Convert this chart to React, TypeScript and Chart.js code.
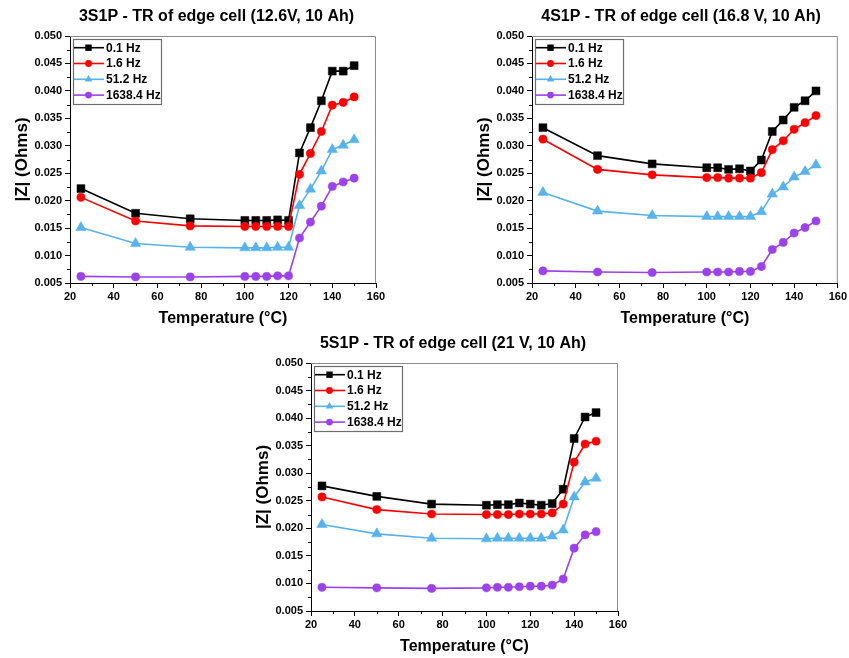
import React, { useEffect, useRef } from "react";
import { Chart, registerables } from "chart.js";
Chart.register(...registerables);

const FONT = "'Liberation Sans', Arial, Helvetica, sans-serif";

// ---------------- data ----------------
const temperatures = [25, 50, 75, 100, 105, 110, 115, 120, 125, 130, 135, 140, 145, 150];
const seriesLabels = ["0.1 Hz", "1.6 Hz", "51.2 Hz", "1638.4 Hz"];
const yTickValues = [0.005, 0.01, 0.015, 0.02, 0.025, 0.03, 0.035, 0.04, 0.045, 0.05];
const xTickValues = [20, 40, 60, 80, 100, 120, 140, 160];

// 3S1P
const z3s_01Hz = [0.0222, 0.0177, 0.0167, 0.0164, 0.0164, 0.0164, 0.0165, 0.0164, 0.0287, 0.0333, 0.0382, 0.0436, 0.0436, 0.0446];
const z3s_16Hz = [0.0206, 0.0163, 0.0154, 0.0153, 0.0153, 0.0153, 0.0153, 0.0153, 0.0248, 0.0286, 0.0326, 0.0374, 0.0379, 0.0389];
const z3s_512Hz = [0.0151, 0.0122, 0.0115, 0.0114, 0.0114, 0.0114, 0.0115, 0.0115, 0.0191, 0.0221, 0.0254, 0.0293, 0.0301, 0.0311];
const z3s_1638Hz = [0.0062, 0.0061, 0.0061, 0.0062, 0.0062, 0.0062, 0.0063, 0.0063, 0.0132, 0.0161, 0.019, 0.0226, 0.0234, 0.0241];

// 4S1P
const z4s_01Hz = [0.0333, 0.0282, 0.0267, 0.026, 0.026, 0.0257, 0.0258, 0.0254, 0.0274, 0.0326, 0.0347, 0.037, 0.0382, 0.04];
const z4s_16Hz = [0.0312, 0.0257, 0.0247, 0.0242, 0.0242, 0.0241, 0.0241, 0.0241, 0.0251, 0.0293, 0.0309, 0.033, 0.0342, 0.0355];
const z4s_512Hz = [0.0215, 0.0181, 0.0173, 0.0171, 0.0171, 0.0171, 0.0171, 0.0171, 0.018, 0.0212, 0.0225, 0.0243, 0.0253, 0.0265];
const z4s_1638Hz = [0.0072, 0.007, 0.0069, 0.007, 0.007, 0.007, 0.0071, 0.0071, 0.008, 0.0111, 0.0124, 0.0141, 0.0151, 0.0163];

// 5S1P
const z5s_01Hz = [0.0277, 0.0258, 0.0244, 0.0242, 0.0243, 0.0243, 0.0246, 0.0244, 0.0242, 0.0245, 0.0271, 0.0363, 0.0402, 0.041];
const z5s_16Hz = [0.0257, 0.0234, 0.0226, 0.0225, 0.0225, 0.0225, 0.0226, 0.0226, 0.0226, 0.0228, 0.0244, 0.032, 0.0353, 0.0358];
const z5s_512Hz = [0.0207, 0.019, 0.0182, 0.0181, 0.0182, 0.0182, 0.0182, 0.0182, 0.0182, 0.0186, 0.0197, 0.0257, 0.0284, 0.0291];
const z5s_1638Hz = [0.0093, 0.0092, 0.0091, 0.0092, 0.0093, 0.0093, 0.0094, 0.0095, 0.0095, 0.0097, 0.0108, 0.0164, 0.0188, 0.0194];

// ---------------- styles ----------------
const COLORS = ["#000000", "#ff0000", "#58b3ec", "#9b42ec"];
const STYLES = ["rect", "circle", "triangle", "circle"];
const RADII = [5.6, 4.1, 6, 4.1];

function drawMarker(ctx: CanvasRenderingContext2D, style: string, x: number, y: number, s: number, color: string) {
  ctx.fillStyle = color;
  ctx.beginPath();
  if (style === "rect") {
    ctx.rect(x - s, y - s, 2 * s, 2 * s);
  } else if (style === "triangle") {
    const r = s * 1.3;
    ctx.moveTo(x, y - r);
    ctx.lineTo(x + r * 0.866, y + r * 0.5);
    ctx.lineTo(x - r * 0.866, y + r * 0.5);
    ctx.closePath();
  } else {
    ctx.arc(x, y, s, 0, Math.PI * 2);
  }
  ctx.fill();
}

const decorPlugin = {
  id: "decor",
  afterDraw(chart: any, _args: any, opts: any) {
    const { ctx, chartArea: a, scales } = chart;
    ctx.save();
    // grey top / right frame
    ctx.strokeStyle = "#8c8c8c";
    ctx.lineWidth = 1;
    ctx.beginPath();
    ctx.moveTo(a.left, a.top + 0.5);
    ctx.lineTo(a.right - 0.5, a.top + 0.5);
    ctx.lineTo(a.right - 0.5, a.bottom);
    ctx.stroke();

    // minor ticks
    ctx.strokeStyle = "#000";
    ctx.beginPath();
    for (let i = 0; i < xTickValues.length - 1; i++) {
      const v = (xTickValues[i] + xTickValues[i + 1]) / 2;
      const px = Math.round(scales.x.getPixelForValue(v)) + 0.5;
      ctx.moveTo(px, a.bottom);
      ctx.lineTo(px, a.bottom + 3);
    }
    for (let i = 0; i < yTickValues.length - 1; i++) {
      const v = (yTickValues[i] + yTickValues[i + 1]) / 2;
      const py = Math.round(scales.y.getPixelForValue(v)) + 0.5;
      ctx.moveTo(a.left - 3, py);
      ctx.lineTo(a.left, py);
    }
    ctx.stroke();

    // legend
    const bx = a.left + 3;
    const by = a.top + 3;
    const bw = 88;
    const bh = 65;
    ctx.fillStyle = "#fff";
    ctx.fillRect(bx, by, bw, bh);
    ctx.strokeStyle = "#6e6e6e";
    ctx.lineWidth = 1.2;
    ctx.strokeRect(bx + 0.5, by + 0.5, bw, bh);
    ctx.font = `bold 12px ${FONT}`;
    ctx.textBaseline = "middle";
    ctx.textAlign = "left";
    chart.data.datasets.forEach((ds: any, i: number) => {
      const ry = by + 8.7 + i * 15.8;
      ctx.strokeStyle = ds.borderColor;
      ctx.lineWidth = 1.6;
      ctx.beginPath();
      ctx.moveTo(bx + 1, ry);
      ctx.lineTo(bx + 31, ry);
      ctx.stroke();
      drawMarker(ctx, ds.pointStyle, bx + 15.5, ry, ds.pointStyle === "rect" ? 3.2 : 3.4, ds.borderColor);
      ctx.fillStyle = "#000";
      ctx.fillText(ds.label, bx + 33, ry + 0.5);
    });

    // title
    ctx.font = `bold 16px ${FONT}`;
    ctx.textAlign = "center";
    ctx.textBaseline = "middle";
    ctx.fillStyle = "#000";
    ctx.fillText(opts.title, opts.titleX, opts.titleY);
    ctx.restore();
  },
};

type PanelProps = {
  left: number;
  top: number;
  width: number;
  height: number;
  pad: { left: number; right: number; top: number; bottom: number };
  title: string;
  titleX: number;
  titleY: number;
  series: number[][];
};

function Panel(p: PanelProps) {
  const ref = useRef<HTMLCanvasElement>(null);
  useEffect(() => {
    if (!ref.current) return;
    const datasets = p.series.map((vals, i) => ({
      label: seriesLabels[i],
      data: temperatures.map((t, j) => ({ x: t, y: vals[j] })),
      borderColor: COLORS[i],
      backgroundColor: COLORS[i],
      pointBackgroundColor: COLORS[i],
      pointBorderColor: COLORS[i],
      pointStyle: STYLES[i],
      pointRadius: RADII[i],
      pointBorderWidth: 0.5,
      borderWidth: 1.6,
      tension: 0,
      order: 3 - i,
    }));
    const tickFont = { family: FONT, size: 11, weight: "bold" as const };
    const titleFont = { family: FONT, size: 16, weight: "bold" as const };
    const chart = new Chart(ref.current, {
      type: "line",
      data: { datasets },
      plugins: [decorPlugin],
      options: {
        responsive: false,
        animation: false,
        devicePixelRatio: 1,
        layout: { padding: p.pad },
        plugins: {
          legend: { display: false },
          tooltip: { enabled: false },
          decor: { title: p.title, titleX: p.titleX, titleY: p.titleY },
        } as any,
        scales: {
          x: {
            type: "linear",
            min: xTickValues[0],
            max: xTickValues[xTickValues.length - 1],
            afterBuildTicks: (s: any) => {
              s.ticks = xTickValues.map((v) => ({ value: v }));
            },
            ticks: { font: tickFont, color: "#000", padding: 2, maxRotation: 0, autoSkip: false },
            grid: { drawOnChartArea: false, drawTicks: true, tickLength: 5, color: "#000" },
            border: { color: "#000", width: 1 },
            title: { display: true, text: "Temperature (°C)", font: titleFont, color: "#000", padding: { top: 0, bottom: 2 } },
            afterFit: (s: any) => {
              s.height = 47;
            },
          },
          y: {
            type: "linear",
            min: yTickValues[0],
            max: yTickValues[yTickValues.length - 1],
            afterBuildTicks: (s: any) => {
              s.ticks = yTickValues.map((v) => ({ value: v }));
            },
            ticks: { font: tickFont, color: "#000", padding: 3, callback: (v: any) => Number(v).toFixed(3) },
            grid: { drawOnChartArea: false, drawTicks: true, tickLength: 5, color: "#000" },
            border: { color: "#000", width: 1 },
            title: { display: true, text: "|Z| (Ohms)", font: { family: FONT, size: 17, weight: "bold" }, color: "#000", padding: { top: 4, bottom: 0 } },
            afterFit: (s: any) => {
              s.width = 62;
            },
          },
        },
      } as any,
    });
    return () => chart.destroy();
  }, []);
  return (
    <canvas
      ref={ref}
      width={p.width}
      height={p.height}
      style={{ position: "absolute", left: p.left, top: p.top, width: p.width, height: p.height }}
    />
  );
}

export default function App() {
  return (
    <div style={{ position: "absolute", left: 0, top: 0, width: 849, height: 658, background: "#fff", overflow: "hidden" }}>
      <Panel
        left={0}
        top={0}
        width={425}
        height={330}
        pad={{ left: 8, right: 49, top: 36, bottom: 0 }}
        title="3S1P - TR of edge cell (12.6V, 10 Ah)"
        titleX={216.5}
        titleY={16.5}
        series={[z3s_01Hz, z3s_16Hz, z3s_512Hz, z3s_1638Hz]}
      />
      <Panel
        left={425}
        top={0}
        width={424}
        height={330}
        pad={{ left: 45, right: 10, top: 36, bottom: 0 }}
        title="4S1P - TR of edge cell (16.8 V, 10 Ah)"
        titleX={256}
        titleY={16.5}
        series={[z4s_01Hz, z4s_16Hz, z4s_512Hz, z4s_1638Hz]}
      />
      <Panel
        left={220}
        top={330}
        width={420}
        height={328}
        pad={{ left: 29, right: 22, top: 33, bottom: 0 }}
        title="5S1P - TR of edge cell (21 V, 10 Ah)"
        titleX={233}
        titleY={14}
        series={[z5s_01Hz, z5s_16Hz, z5s_512Hz, z5s_1638Hz]}
      />
    </div>
  );
}
